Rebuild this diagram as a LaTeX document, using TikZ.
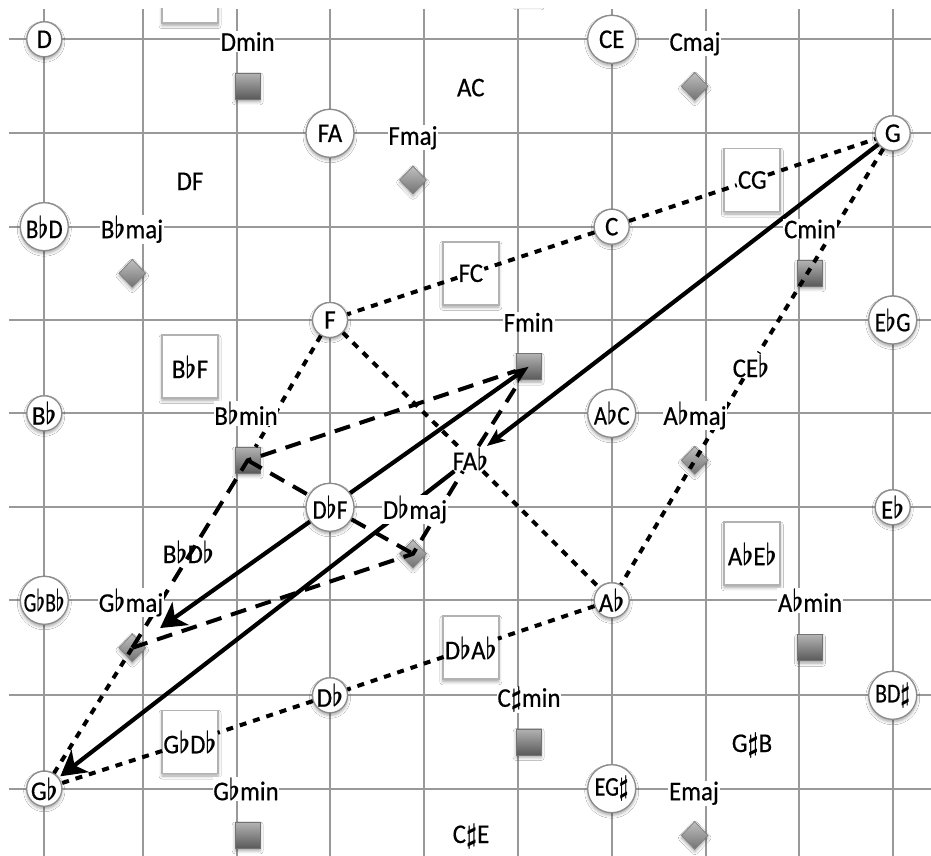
\documentclass[tikz,border=0pt]{standalone}
\usepackage{fontspec}
\setmainfont{Carlito}[FakeStretch=0.92,FakeBold=0.5]
\usetikzlibrary{shapes.geometric,arrows.meta,shadows.blur}
\newcommand{\flt}{\scalebox{1.0}[1.22]{\boldmath$\flat$}}
\newcommand{\shp}{\scalebox{1.0}[1.12]{\boldmath$\sharp$}}
\begin{document}
\begin{tikzpicture}[x=1pt,y=-1pt,
  font=\fontsize{27}{32}\selectfont,
  gridl/.style={draw=black!40, line width=2pt},
  shd/.style={blur shadow={shadow xshift=0pt, shadow yshift=-2.5pt, shadow blur radius=3pt, shadow opacity=35}},
  sc/.style={circle, draw=black!45, line width=1.3pt, fill=white, minimum size=35pt, inner sep=0pt, shd},
  lc/.style={sc, minimum size=48pt},
  msq/.style={rectangle, draw=black!55, line width=0.8pt, top color=black!30, bottom color=black!65, minimum width=25pt, minimum height=26pt, inner sep=0pt, shd},
  mdia/.style={diamond, draw=black!50, line width=0.8pt, top color=black!25, bottom color=black!55, minimum width=27pt, minimum height=28pt, inner sep=0pt, shd},
  dbox/.style={rectangle, draw=black!30, line width=1.8pt, fill=white, minimum width=56pt, minimum height=63pt, inner sep=0pt, shd},
  txt/.style={inner sep=1pt},
  lab/.style={fill=white, inner sep=0.8pt, anchor=base},
  dotl/.style={line width=4pt, dash pattern=on 7pt off 7pt},
  dashl/.style={line width=4pt, dash pattern=on 16pt off 10pt},
  arrbig/.style={line width=4.2pt, -{Stealth[length=25pt,width=28pt,inset=7pt]}},
  arrsmall/.style={line width=4.2pt, -{Stealth[length=18pt,width=14pt,inset=4pt]}}
]
\useasboundingbox (0,0) rectangle (931,856);
\fill[white] (0,0) rectangle (931,856);
\clip (9,9) rectangle (931,856);
% grid
\foreach \x in {44.3,143.3,236.7,330,424,517.7,611.7,705.7,799,892.7}
  \draw[gridl] (\x,9) -- (\x,856);
\foreach \y in {39.3,133.3,226.7,320,413.3,507.3,600.3,695.3,788.7}
  \draw[gridl] (9,\y) -- (931,\y);
% dyad boxes
\node[dbox] (boxtop) at (190,-8.3) {};
\node[dbox] (boxbbf) at (190,366.7) {B\flt F};
\node[dbox] (boxcg) at (752.3,180) {};
\node[dbox] (boxfc) at (470.8,273.3) {};
\node[dbox] (boxabeb) at (752.3,553.8) {A\flt E\flt};
\node[dbox] (boxdbab) at (470.8,647.8) {};
\node[dbox] (boxgbdb) at (190,742) {};
% small circles
\node[sc] (D) at (44.3,39.3) {D};
\node[sc] (G) at (892.7,133.3) {G};
\node[sc] (C) at (611.7,226.7) {C};
\node[sc] (F) at (330,320) {F};
\node[sc] (Bb) at (44.3,413.3) {B\flt};
\node[sc] (Eb) at (892.7,507.3) {E\flt};
\node[sc] (Ab) at (611.7,600.3) {A\flt};
\node[sc] (Db) at (330,695.3) {D\flt};
\node[sc] (Gb) at (44.3,788.7) {G\flt};
% large circles
\node[lc] (CE) at (611.7,39.3) {CE};
\node[lc] (FA) at (330,133.3) {FA};
\node[lc] (BbD) at (44.3,226.7) {\scalebox{0.92}[1]{B\flt D}};
\node[lc] (EbG) at (892.7,320) {\scalebox{0.92}[1]{E\flt G}};
\node[lc] (AbC) at (611.7,413.3) {\scalebox{0.92}[1]{A\flt C}};
\node[lc] (DbF) at (330,507.3) {\scalebox{0.92}[1]{D\flt F}};
\node[lc] (GbBb) at (44.3,600.3) {\scalebox{0.8}[1]{G\flt B\flt}};
\node[lc] (BDs) at (892.7,695.3) {\scalebox{0.88}[1]{BD\shp}};
\node[lc] (EGs) at (611.7,788.7) {\scalebox{0.88}[1]{EG\shp}};
% minor squares
\node[msq] (topsq) at (528.7,-8.6) {};
\node[msq] (dmin) at (247.7,86.3) {};
\node[msq] (cmin) at (810,273.3) {};
\node[msq] (fmin) at (528.7,366.7) {};
\node[msq] (bbmin) at (247.7,460.3) {};
\node[msq] (abmin) at (810,647.8) {};
\node[msq] (csmin) at (528.7,742) {};
\node[msq] (gbmin) at (247.7,835.4) {};
% major diamonds
\node[mdia] (bbmaj) at (132.3,273.3) {};
\node[mdia] (fmaj) at (413,180) {};
\node[mdia] (cmaj) at (694.7,86.3) {};
\node[mdia] (abmaj) at (694.7,460.3) {};
\node[mdia] (dbmaj) at (413,553.8) {};
\node[mdia] (gbmaj) at (132.3,647.8) {};
\node[mdia] (emaj) at (694.7,835.4) {};
% dyad texts (connection targets)
\node[txt] (cg) at (752.3,180) {CG};
\node[txt] (fc) at (470.8,273.3) {FC};
\node[txt] (dbab) at (470.8,647.8) {D\flt A\flt};
\node[txt] (gbdb) at (190,742) {G\flt D\flt};
\node[txt, anchor=base] (fab) at (470.5,470) {FA\flt};
\node[txt, anchor=base] (ceb) at (751,377) {CE\flt};
\node[txt, anchor=base] (df) at (190,190) {DF};
\node[txt, anchor=base] (ac) at (470.8,96.3) {AC};
\node[txt, anchor=base] (bbdb) at (188.5,563) {B\flt D\flt};
\node[txt, anchor=base] (gsb) at (752,752) {G\shp B};
\node[txt, anchor=base] (cse) at (471,843) {C\shp E};
% dotted connectors
\draw[dotl] (C) -- (cg);
\draw[dotl] (cg) -- (G);
\draw[dotl] (C) -- (fc);
\draw[dotl] (fc) -- (F);
\draw[dotl] (G) -- (ceb);
\draw[dotl] (ceb) -- (Ab);
\draw[dotl] (F) -- (fab);
\draw[dotl] (fab) -- (Ab);
\draw[dotl] (F) -- (bbmin);
\draw[dotl] (Ab) -- (dbab);
\draw[dotl] (dbab) -- (Db);
\draw[dotl] (Db) -- (gbdb);
\draw[dotl] (gbdb) -- (Gb);
\draw[dotl] (Gb) -- (gbmaj.center);
% dashed connectors
\draw[dashl] (gbmaj.center) -- (bbmin.center) -- (fmin);
\draw[dashl] (bbmin.center) -- (DbF);
\draw[dashl] (gbmaj.center) -- (dbmaj.center) -- (fab);
\draw[dashl] (DbF) -- (dbmaj.center);
\draw[dashl] (fab) -- (fmin);
% solid arrows
\draw[arrsmall] (G) -- (fab);
\draw[arrbig, shorten >=2pt] (fab) -- (Gb);
\draw[arrsmall] (DbF) -- (fmin.center);
\draw[arrbig, shorten >=24pt] (DbF) -- (gbmaj);
% chord labels
\node[lab] (ldmin) at (247.7,50.8) {Dmin};
\node[lab] (lcmin) at (810,238.2) {Cmin};
\node[lab] (lfmin) at (528.7,331.5) {Fmin};
\node[lab] (lbbmin) at (246,424.8) {B\flt min};
\node[lab] (labmin) at (810,611.8) {A\flt min};
\node[lab] (lcsmin) at (529,706.8) {C\shp min};
\node[lab] (lgbmin) at (246,800.2) {G\flt min};
\node[lab] (lbbmaj) at (132,238.2) {B\flt maj};
\node[lab] (lfmaj) at (413,144.8) {Fmaj};
\node[lab] (lcmaj) at (695,50.8) {Cmaj};
\node[lab] (labmaj) at (695,424.8) {A\flt maj};
\node[lab] (ldbmaj) at (415,518.8) {D\flt maj};
\node[lab] (lgbmaj) at (131,611.8) {G\flt maj};
\node[lab] (lemaj) at (694,800.2) {Emaj};
\end{tikzpicture}
\end{document}
